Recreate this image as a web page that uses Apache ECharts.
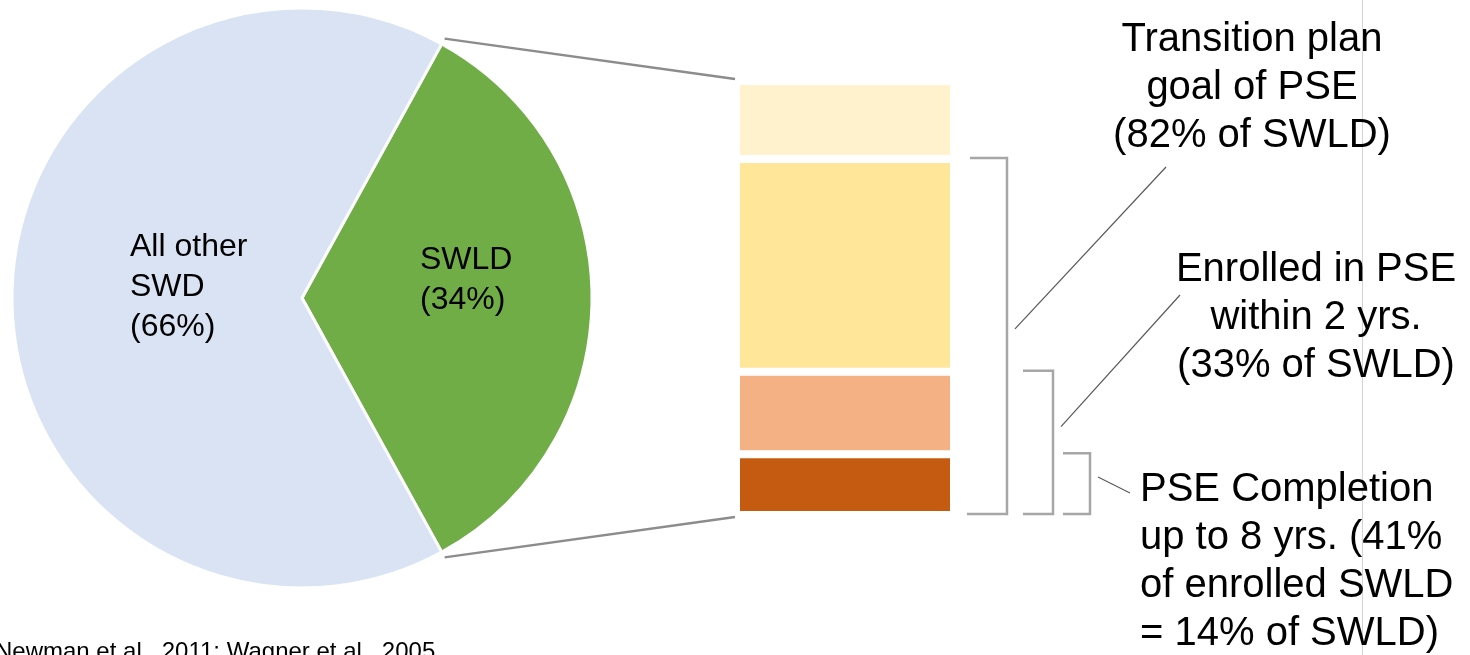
<!DOCTYPE html>
<html>
<head>
<meta charset="utf-8">
<script src="https://cdn.jsdelivr.net/npm/echarts@6/dist/echarts.min.js"></script>
<style>
  html, body { margin: 0; padding: 0; background: #ffffff; }
  #chart { width: 1470px; height: 655px; }
</style>
</head>
<body>
<div id="chart"></div>
<script>
// Share of students with disabilities (SWD)
const pieNames = ['SWLD', 'All other SWD'];
const pieLabels = ['SWLD', 'All other\nSWD'];
const pieValues = [34, 66];
const pieColors = ['#70AD47', '#DAE3F3'];

// Breakdown of SWLD (percent of SWLD), stacked from the bottom
const barCategory = ['SWLD'];
const stackNames = ['PSE completion', 'Enrolled, not completed', 'PSE goal, not enrolled', 'No PSE goal'];
const stackValues = [14, 19, 49, 18];
const stackColors = ['#C55A11', '#F4B183', '#FFE699', '#FFF2CC'];

// Cumulative levels spanned by each bracket (percent of SWLD)
const bracketLevels = [82, 33, 14];
const calloutTexts = [
  'Transition plan\ngoal of PSE\n(82% of SWLD)',
  'Enrolled in PSE\nwithin 2 yrs.\n(33% of SWLD)',
  'PSE Completion\nup to 8 yrs. (41%\nof enrolled SWLD\n= 14% of SWLD)'
];
const footnote = 'Newman et al., 2011; Wagner et al., 2005';

const FONT = '"Liberation Sans", Arial, sans-serif';
const PIE_CENTER = [302, 298];
const PIE_RADIUS = 290;
const GRID = { left: 736, top: 81, width: 218, height: 434 };

const chart = echarts.init(document.getElementById('chart'), null, { renderer: 'canvas' });

const pieTotal = pieValues.reduce((a, b) => a + b, 0);
const swldSpan = 360 * pieValues[0] / pieTotal;
const startAngle = swldSpan / 2;   // keeps the SWLD slice centred on 3 o'clock

const option = {
  animation: false,
  backgroundColor: '#ffffff',
  textStyle: { fontFamily: FONT },
  grid: { left: GRID.left, top: GRID.top, width: GRID.width, height: GRID.height, containLabel: false },
  xAxis: { type: 'category', data: barCategory, show: false },
  yAxis: { type: 'value', min: 0, max: 100, show: false },
  series: [
    {
      type: 'pie',
      center: PIE_CENTER,
      radius: PIE_RADIUS,
      startAngle: startAngle,
      clockwise: true,
      silent: true,
      emphasis: { disabled: true },
      itemStyle: { borderColor: '#ffffff', borderWidth: 3 },
      label: {
        show: true,
        position: 'inside',
        fontFamily: FONT,
        fontSize: 32,
        lineHeight: 40,
        color: '#000000',
        formatter: p => pieLabels[p.dataIndex] + '\n(' + Math.round(p.percent) + '%)'
      },
      labelLine: { show: false },
      labelLayout: p => p.dataIndex === 0
        ? { dx: -15, dy: -9, align: 'left' }
        : { dx: -12, dy: -5.5, align: 'left' },
      data: pieNames.map((n, i) => ({ name: n, value: pieValues[i], itemStyle: { color: pieColors[i] } }))
    }
  ].concat(stackNames.map((n, i) => ({
    type: 'bar',
    name: n,
    stack: 'swld',
    barWidth: '100%',
    silent: true,
    emphasis: { disabled: true },
    itemStyle: { color: stackColors[i], borderColor: '#ffffff', borderWidth: 4 },
    data: [stackValues[i]]
  })))
};

chart.setOption(option);

// Annotation layer built from the axis scale
const yPix = v => chart.convertToPixel({ xAxisIndex: 0, yAxisIndex: 0 }, [0, v])[1];
const barLeft = GRID.left + 2;
const barRight = GRID.left + GRID.width - 2;
const yTopBar = yPix(100) + 2;
const yBotBar = yPix(0) - 2;

const graphics = [];

// faint vertical rule on the right
graphics.push({
  type: 'line', z: 1,
  shape: { x1: 1362.5, y1: 0, x2: 1362.5, y2: 655 },
  style: { stroke: '#d4d4d4', lineWidth: 1 }
});

// connectors from the SWLD slice to the bar
const rad = d => d * Math.PI / 180;
const a1 = rad(startAngle), a2 = rad(startAngle - swldSpan);
const rOut = PIE_RADIUS + 6;
const pTop = [PIE_CENTER[0] + rOut * Math.cos(a1), PIE_CENTER[1] - rOut * Math.sin(a1)];
const pBot = [PIE_CENTER[0] + rOut * Math.cos(a2), PIE_CENTER[1] - rOut * Math.sin(a2)];
graphics.push({
  type: 'line', z: 5,
  shape: { x1: pTop[0], y1: pTop[1], x2: barLeft - 3, y2: yTopBar - 4 },
  style: { stroke: '#8c8c8c', lineWidth: 2.5 }
});
graphics.push({
  type: 'line', z: 5,
  shape: { x1: pBot[0], y1: pBot[1], x2: barLeft - 3, y2: yBotBar + 4 },
  style: { stroke: '#8c8c8c', lineWidth: 2.5 }
});

// brackets: [left end offset, vertical offset] from the bar's right edge
const bracketX = [[18, 55], [71, 101], [111, 138]];
const leaderFrac = [0.48, 0.39, 0.39];
const leaderEnd = [[1166, 167], [1180, 295], [1130, 493]];
bracketLevels.forEach((lvl, i) => {
  const yt = yPix(lvl) - 1;
  const yb = yBotBar + 1;
  const xl = barRight + bracketX[i][0];
  const xv = barRight + bracketX[i][1];
  graphics.push({
    type: 'polyline', z: 5,
    shape: { points: [[xl, yt], [xv, yt], [xv, yb], [xl - (i === 0 ? 3 : 0), yb]] },
    style: { stroke: '#a6a6a6', lineWidth: 2.5, fill: null }
  });
  const ys = yt + leaderFrac[i] * (yb - yt);
  graphics.push({
    type: 'line', z: 5,
    shape: { x1: xv + 8, y1: ys, x2: leaderEnd[i][0], y2: leaderEnd[i][1] },
    style: { stroke: '#595959', lineWidth: 1.2 }
  });
});

// callout texts
const calloutPos = [
  { x: 1252, y: 16, align: 'center' },
  { x: 1316, y: 246, align: 'center' },
  { x: 1140, y: 466, align: 'left' }
];
calloutTexts.forEach((t, i) => {
  graphics.push({
    type: 'text', z: 10,
    x: calloutPos[i].x, y: calloutPos[i].y,
    style: {
      text: t, fill: '#000000',
      fontSize: 40, fontFamily: FONT, lineHeight: 48,
      align: calloutPos[i].align, verticalAlign: 'top'
    }
  });
});

// source note
graphics.push({
  type: 'text', z: 10, x: -5, y: 640,
  style: { text: footnote, fill: '#000000', fontSize: 24, fontFamily: FONT, align: 'left', verticalAlign: 'top' }
});

chart.setOption({ graphic: graphics });
</script>
</body>
</html>
